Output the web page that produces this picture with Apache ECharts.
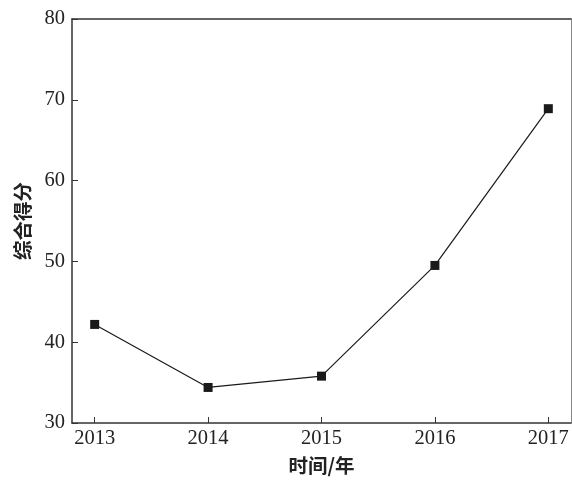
<!DOCTYPE html>
<html>
<head>
<meta charset="utf-8">
<script src="https://cdn.jsdelivr.net/npm/echarts@6/dist/echarts.min.js"></script>
<style>
html,body{margin:0;padding:0;background:#fff;}
#chart{width:572px;height:487px;}
</style>
</head>
<body>
<div id="chart"></div>
<script>
// Yearly composite scores
const years = [2013, 2014, 2015, 2016, 2017];
const scores = [42.2, 34.4, 35.8, 49.5, 68.9];
const yTicks = [30, 40, 50, 60, 70, 80];
const xName = '时间/年';
const yName = '综合得分';

const serif = '"Liberation Serif", "Times New Roman", serif';
const cjk = '"Noto Sans CJK SC", sans-serif';
const ink = '#222';

const chart = echarts.init(document.getElementById('chart'));
chart.setOption({
  animation: false,
  backgroundColor: '#fff',
  grid: { left: 72, right: 1, top: 19, bottom: 64 },
  xAxis: [{
    type: 'value',
    min: 2012.8,
    max: 2017.2,
    name: xName,
    nameLocation: 'middle',
    nameGap: 33,
    nameTextStyle: { fontFamily: cjk, fontSize: 19.5, fontWeight: 'bold', color: ink },
    axisLine: { lineStyle: { color: '#333', width: 1.5 } },
    axisTick: { inside: true, length: 6, customValues: years, lineStyle: { color: '#333' } },
    axisLabel: { customValues: years, fontFamily: serif, fontSize: 20.5, color: ink, margin: 5,
      formatter: v => String(v) },
    splitLine: { show: false }
  }, {
    type: 'value',
    position: 'top',
    min: 2012.8,
    max: 2017.2,
    axisLine: { show: true, lineStyle: { color: '#333', width: 1.5 } },
    axisTick: { show: false },
    axisLabel: { show: false },
    splitLine: { show: false }
  }],
  yAxis: [{
    type: 'value',
    min: 30,
    max: 80,
    interval: 10,
    name: yName,
    nameLocation: 'middle',
    nameGap: 40,
    nameRotate: 90,
    nameTextStyle: { fontFamily: cjk, fontSize: 19.5, fontWeight: 'bold', color: ink },
    axisLine: { show: true, lineStyle: { color: '#333', width: 1.5 } },
    axisTick: { inside: true, length: 6, lineStyle: { color: '#333' } },
    axisLabel: { fontFamily: serif, fontSize: 20.5, color: ink, margin: 7,
      formatter: v => (yTicks.includes(v) ? String(v) : '') },
    splitLine: { show: false }
  }, {
    type: 'value',
    position: 'right',
    min: 30,
    max: 80,
    axisLine: { show: true, lineStyle: { color: '#888', width: 1 } },
    axisTick: { show: false },
    axisLabel: { show: false },
    splitLine: { show: false }
  }],
  series: [{
    type: 'line',
    data: years.map((y, i) => [y, scores[i]]),
    symbol: 'rect',
    symbolSize: 9,
    lineStyle: { color: '#1a1a1a', width: 1.2 },
    itemStyle: { color: '#1a1a1a' }
  }]
});
</script>
</body>
</html>
